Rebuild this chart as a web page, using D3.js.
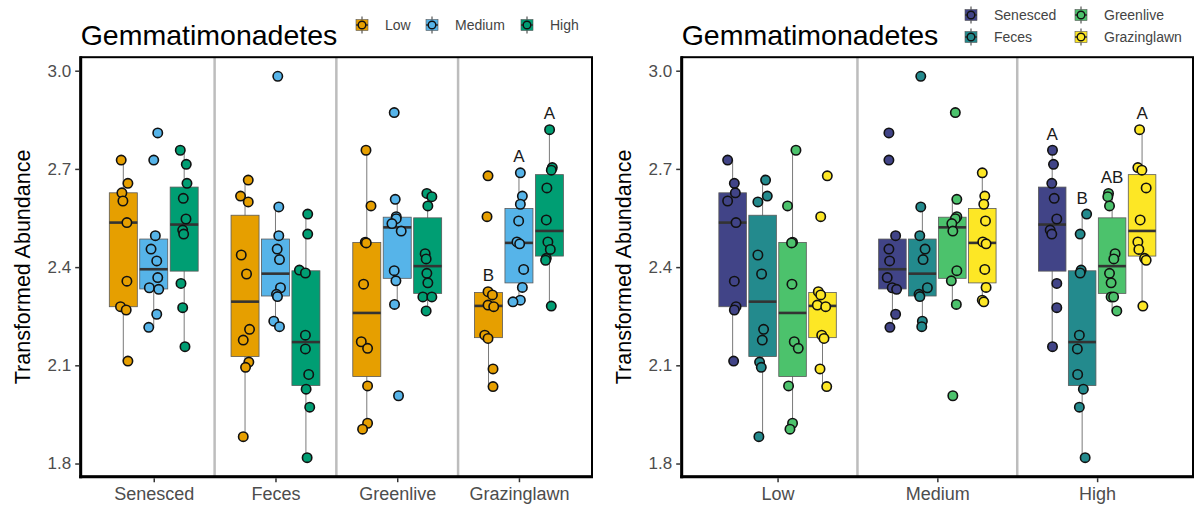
<!DOCTYPE html>
<html>
<head>
<meta charset="utf-8">
<script src="https://cdn.jsdelivr.net/npm/d3@7/dist/d3.min.js"></script>
<style>
  html, body { margin: 0; padding: 0; background: #fff; }
  svg { display: block; font-family: "Liberation Sans", Arial, sans-serif; }
</style>
</head>
<body>
<svg id="chart" width="1196" height="508"></svg>
<script>
// ---- data: transformed abundance of Gemmatimonadetes per habitat x grazing level ----
const habitats = ["Senesced", "Feces", "Greenlive", "Grazinglawn"];
const levels = ["Low", "Medium", "High"];
const yTicks = [1.8, 2.1, 2.4, 2.7, 3.0];

const senescedLow      = [2.727, 2.656, 2.627, 2.602, 2.536, 2.357, 2.279, 2.269, 2.113];
const senescedMedium   = [2.810, 2.727, 2.496, 2.455, 2.419, 2.368, 2.337, 2.332, 2.256, 2.216];
const senescedHigh     = [2.757, 2.714, 2.656, 2.610, 2.547, 2.513, 2.501, 2.350, 2.276, 2.157];
const fecesLow         = [2.666, 2.617, 2.599, 2.437, 2.379, 2.210, 2.177, 2.110, 2.094, 1.882];
const fecesMedium      = [2.983, 2.584, 2.496, 2.455, 2.423, 2.337, 2.317, 2.310, 2.235, 2.218];
const fecesHigh        = [2.562, 2.501, 2.391, 2.382, 2.192, 2.150, 2.072, 2.027, 1.972, 1.818];
const greenliveLow     = [2.757, 2.587, 2.476, 2.474, 2.348, 2.172, 2.152, 2.037, 1.923, 1.905];
const greenliveMedium  = [2.872, 2.607, 2.554, 2.548, 2.533, 2.510, 2.389, 2.358, 2.286, 2.007];
const greenliveHigh    = [2.625, 2.615, 2.587, 2.441, 2.425, 2.381, 2.352, 2.309, 2.309, 2.266];
const grazinglawnLow   = [2.679, 2.554, 2.325, 2.315, 2.284, 2.279, 2.192, 2.182, 2.089, 2.035];
const grazinglawnMedium= [2.688, 2.617, 2.592, 2.541, 2.477, 2.471, 2.393, 2.338, 2.299, 2.294];
const grazinglawnHigh  = [2.820, 2.704, 2.696, 2.642, 2.544, 2.477, 2.454, 2.427, 2.421, 2.281];

// horizontal jitter (px) of each point, same order as the values above
const jitterByLevel = {
  "Senesced|Low": [-2.1, 4.6, -1.4, -0.4, 3.6, 3.6, -2.8, 2.9, 4.6],
  "Senesced|Medium": [4, 0, 1.6, -2.7, 3, 4, -4.4, 5, 3, -5],
  "Senesced|High": [-3.9, 2.1, 2.8, -0.9, 1.8, -1.5, -0.5, -3.2, -1.5, 0.8],
  "Feces|Low": [3.2, -4.5, 3.2, -3.8, 1.5, 4.5, -1.8, 3.8, 0.5, -1.8],
  "Feces|Medium": [2.3, 3.3, 3.3, 1.7, 4, 5, 1, 2, -1.7, 4],
  "Feces|High": [1.8, 1.8, -6.5, -0.5, -0.5, -0.5, 2.8, 0.2, 3.8, 1.2],
  "Greenlive|Low": [-0.8, 4.2, -1.5, -0.5, -3.2, -5.5, 0.8, 0.8, 0.8, -4.2],
  "Greenlive|Medium": [-3, -2, -1, -1, -5.3, 4, -3, -1.3, -2.7, 1.3],
  "Greenlive|High": [-0.8, 4.2, 0.2, -2.5, -1.5, -0.8, 0.2, -4.8, 4.2, -1.5],
  "Grazinglawn|Low": [-0.5, -1.5, -0.5, 3.9, -0.5, 5.2, -3.8, -0.5, 4.5, 4.5],
  "Grazinglawn|Medium": [1.4, 3.4, 1.4, -0.3, -2, 0.7, 4.7, 3.4, 1.4, -6],
  "Grazinglawn|High": [0.2, 2.9, 1.9, -2.5, -3.1, -1.5, 0.9, -3.1, -3.8, 1.9]
};
const jitterByHabitat = {
  "Senesced|Low": [-5, 1.7, 2.7, -5, 3.4, 1.7, 3.4, 1.7, 1],
  "Feces|Low": [3, 4.7, -4.7, -4.7, -1, 1, -0.3, -3, -1.3, -3.7],
  "Greenlive|Low": [3.4, -5, 0, -1, -0.6, 1.7, 5.7, -4, 0, -2.6],
  "Grazinglawn|Low": [4.8, -1.8, -4.2, -1.8, -5.2, 3.2, -0.8, 1.5, -2.5, 4.2],
  "Senesced|Medium": [-3.5, -3.5, 3.2, -3.5, -2.8, -5.2, -0.2, 4.2, 3.2, -2.5],
  "Feces|Medium": [-1.6, -1.6, -2.6, 2.7, 0.7, 5, -3.3, -2.5, 0, -0.6],
  "Greenlive|Medium": [3, 4.5, 4.5, 3, -0.5, 0.5, 4.5, -1, 4, 0.5],
  "Grazinglawn|Medium": [0, 2.5, 1.5, 3.2, 0.5, 3.8, 2.5, 3.8, 0, 1.5],
  "Senesced|High": [0.3, 1.3, -0.4, 2, 4.6, -2, -0.4, 4.6, 4.6, 0.3],
  "Feces|High": [4.5, -2, -1, -2, -2.8, -4.8, -4.5, 1.2, -2.8, 3],
  "Greenlive|High": [-3.6, -4.3, -2.6, 3, 1.7, -2.6, -1, -1, 1.5, 4.7],
  "Grazinglawn|High": [-2.5, -4.2, -0.2, 4.1, -1.9, -4.2, -3.2, 2.5, 4.1, 0.8]
};

// significance letters
const lettersByLevel = [
  { habitat: "Grazinglawn", level: "Low", text: "B" },
  { habitat: "Grazinglawn", level: "Medium", text: "A" },
  { habitat: "Grazinglawn", level: "High", text: "A" }
];
const lettersByHabitat = [
  { habitat: "Senesced", level: "High", text: "A" },
  { habitat: "Feces", level: "High", text: "B" },
  { habitat: "Greenlive", level: "High", text: "AB" },
  { habitat: "Grazinglawn", level: "High", text: "A" }
];

const levelColors = ["#E69F00", "#56B4E9", "#009E73"];
const habitatColors = ["#414487", "#238A8D", "#4CC26C", "#FDE725"];

// lookup table built from the named arrays
const table = {
  Senesced:    { Low: senescedLow,    Medium: senescedMedium,    High: senescedHigh },
  Feces:       { Low: fecesLow,       Medium: fecesMedium,       High: fecesHigh },
  Greenlive:   { Low: greenliveLow,   Medium: greenliveMedium,   High: greenliveHigh },
  Grazinglawn: { Low: grazinglawnLow, Medium: grazinglawnMedium, High: grazinglawnHigh }
};

// ---- layout ----
const svg = d3.select("#chart");
const plotTop = 57.2, plotBottom = 476.7;
const allValues = Object.values(table).flatMap(o => Object.values(o).flat());
const [vmin, vmax] = d3.extent(allValues);
const pad = (vmax - vmin) * 0.05;
const y = d3.scaleLinear().domain([vmin - pad, vmax + pad]).range([plotBottom, plotTop]);

function boxStats(vals) {
  const s = vals.slice().sort(d3.ascending);
  const q1 = d3.quantileSorted(s, 0.25), med = d3.quantileSorted(s, 0.5), q3 = d3.quantileSorted(s, 0.75);
  const iqr = q3 - q1;
  const lo = d3.min(s.filter(v => v >= q1 - 1.5 * iqr));
  const hi = d3.max(s.filter(v => v <= q3 + 1.5 * iqr));
  return { q1, med, q3, lo, hi };
}

function drawPanel(cfg) {
  const g = svg.append("g");
  const x = d3.scaleBand().domain(cfg.groups).range([cfg.x0, cfg.x1]).paddingInner(0).paddingOuter(0.1);
  const step = x.step();
  const dodge = d3.scaleBand().domain(cfg.dodge).range([-0.375 * step, 0.375 * step]).paddingInner(0).paddingOuter(0);
  const color = d3.scaleOrdinal().domain(cfg.dodge).range(cfg.colors);
  const bw = dodge.bandwidth() * 0.92;
  const cx = (grp, sub) => x(grp) + step / 2 + dodge(sub) + dodge.bandwidth() / 2;

  // group separators
  g.selectAll("line.sep").data(cfg.groups.slice(0, -1)).join("line")
    .attr("x1", d => x(d) + step).attr("x2", d => x(d) + step)
    .attr("y1", plotTop).attr("y2", plotBottom)
    .attr("stroke", "#bdbdbd").attr("stroke-width", 2.5);

  const cells = [];
  cfg.groups.forEach(grp => cfg.dodge.forEach(sub => {
    const vals = cfg.values(grp, sub);
    cells.push({ grp, sub, vals, jit: cfg.jitter(grp, sub), st: boxStats(vals) });
  }));

  // boxes
  const bx = g.selectAll("g.box").data(cells).join("g");
  bx.append("line")
    .attr("x1", d => cx(d.grp, d.sub)).attr("x2", d => cx(d.grp, d.sub))
    .attr("y1", d => y(d.st.hi)).attr("y2", d => y(d.st.lo))
    .attr("stroke", "#7a7a7a").attr("stroke-width", 1);
  bx.append("rect")
    .attr("x", d => cx(d.grp, d.sub) - bw / 2).attr("width", bw)
    .attr("y", d => y(d.st.q3)).attr("height", d => y(d.st.q1) - y(d.st.q3))
    .attr("fill", d => color(d.sub)).attr("stroke", "#5a5a5a").attr("stroke-width", 0.8);
  bx.append("line")
    .attr("x1", d => cx(d.grp, d.sub) - bw / 2).attr("x2", d => cx(d.grp, d.sub) + bw / 2)
    .attr("y1", d => y(d.st.med)).attr("y2", d => y(d.st.med))
    .attr("stroke", "#333").attr("stroke-width", 2.6);

  // points
  const pts = cells.flatMap(c => c.vals.map((v, i) => ({ v, x: cx(c.grp, c.sub) + (c.jit[i] || 0), sub: c.sub })));
  g.selectAll("circle.pt").data(pts).join("circle")
    .attr("cx", d => d.x).attr("cy", d => y(d.v)).attr("r", 4.7)
    .attr("fill", d => color(d.sub)).attr("stroke", "#111").attr("stroke-width", 1.6);

  // letters above whiskers
  g.selectAll("text.let").data(cfg.letters).join("text")
    .attr("x", d => cx(d.grp, d.sub))
    .attr("y", d => y(cells.find(c => c.grp === d.grp && c.sub === d.sub).st.hi) - 16)
    .attr("text-anchor", "middle").attr("dominant-baseline", "central")
    .attr("font-size", 17).attr("fill", "#1a1a1a").text(d => d.text);

  // frame and axes
  g.append("rect").attr("x", cfg.x0).attr("y", plotTop).attr("width", cfg.x1 - cfg.x0).attr("height", plotBottom - plotTop)
    .attr("fill", "none").attr("stroke", "#000").attr("stroke-width", 2);
  g.append("line").attr("x1", cfg.x0).attr("x2", cfg.x0).attr("y1", plotTop - 1).attr("y2", plotBottom + 1.5)
    .attr("stroke", "#000").attr("stroke-width", 3);
  g.append("line").attr("x1", cfg.x0 - 1.5).attr("x2", cfg.x1 + 1).attr("y1", plotBottom).attr("y2", plotBottom)
    .attr("stroke", "#000").attr("stroke-width", 3);

  const yAxis = g.append("g").attr("transform", `translate(${cfg.x0 - 1.5},0)`)
    .call(d3.axisLeft(y).tickValues(yTicks).tickFormat(d3.format(".1f")).tickSize(4).tickPadding(4));
  yAxis.select(".domain").remove();
  yAxis.selectAll(".tick line").attr("stroke", "#333").attr("stroke-width", 1.5);
  yAxis.selectAll(".tick text").attr("fill", "#4d4d4d").attr("font-size", 17).attr("font-family", "Liberation Sans, Arial, sans-serif");

  const xAxis = g.append("g").attr("transform", `translate(0,${plotBottom + 1.5})`)
    .call(d3.axisBottom(d3.scalePoint().domain(cfg.groups).range([x(cfg.groups[0]) + step / 2, x(cfg.groups[cfg.groups.length - 1]) + step / 2]))
      .tickSize(4).tickPadding(5));
  xAxis.select(".domain").remove();
  xAxis.selectAll(".tick line").attr("stroke", "#333").attr("stroke-width", 1.5);
  xAxis.selectAll(".tick text").attr("fill", "#4d4d4d").attr("font-size", 18).attr("font-family", "Liberation Sans, Arial, sans-serif");

  // axis title
  g.append("text").attr("transform", `translate(${cfg.x0 - 58},${(plotTop + plotBottom) / 2}) rotate(-90)`)
    .attr("text-anchor", "middle").attr("dominant-baseline", "central")
    .attr("font-size", 21.5).attr("fill", "#000").text("Transformed Abundance");

  // title
  g.append("text").attr("x", cfg.x0).attr("y", 45).attr("font-size", 28.5).attr("fill", "#000").text("Gemmatimonadetes");

  // legend
  const lg = g.selectAll("g.leg").data(cfg.legend).join("g")
    .attr("transform", d => `translate(${d.x},${d.y})`);
  lg.append("line").attr("x1", 0).attr("x2", 0).attr("y1", -8.5).attr("y2", 8.5).attr("stroke", "#333").attr("stroke-width", 1);
  lg.append("rect").attr("x", -6).attr("y", -5.5).attr("width", 12).attr("height", 11)
    .attr("fill", d => color(d.key)).attr("stroke", "#555").attr("stroke-width", 0.6);
  lg.append("line").attr("x1", -6).attr("x2", 6).attr("y1", 0).attr("y2", 0).attr("stroke", "#333").attr("stroke-width", 1.5);
  lg.append("circle").attr("r", 3.8).attr("fill", d => color(d.key)).attr("stroke", "#111").attr("stroke-width", 1.4);
  lg.append("text").attr("x", 23).attr("y", 0).attr("dominant-baseline", "central")
    .attr("font-size", 14).attr("fill", "#444").text(d => d.key);
}

drawPanel({
  x0: 80.7, x1: 592,
  groups: habitats, dodge: levels, colors: levelColors,
  values: (g, d) => table[g][d],
  jitter: (g, d) => jitterByLevel[g + "|" + d],
  letters: lettersByLevel.map(l => ({ grp: l.habitat, sub: l.level, text: l.text })),
  legend: [
    { key: "Low", x: 362, y: 25 },
    { key: "Medium", x: 432, y: 25 },
    { key: "High", x: 527, y: 25 }
  ]
});

drawPanel({
  x0: 681.7, x1: 1193,
  groups: levels, dodge: habitats, colors: habitatColors,
  values: (g, d) => table[d][g],
  jitter: (g, d) => jitterByHabitat[d + "|" + g],
  letters: lettersByHabitat.map(l => ({ grp: l.level, sub: l.habitat, text: l.text })),
  legend: [
    { key: "Senesced", x: 971, y: 15 },
    { key: "Feces", x: 971, y: 37 },
    { key: "Greenlive", x: 1081, y: 15 },
    { key: "Grazinglawn", x: 1081, y: 37 }
  ]
});
</script>
</body>
</html>
